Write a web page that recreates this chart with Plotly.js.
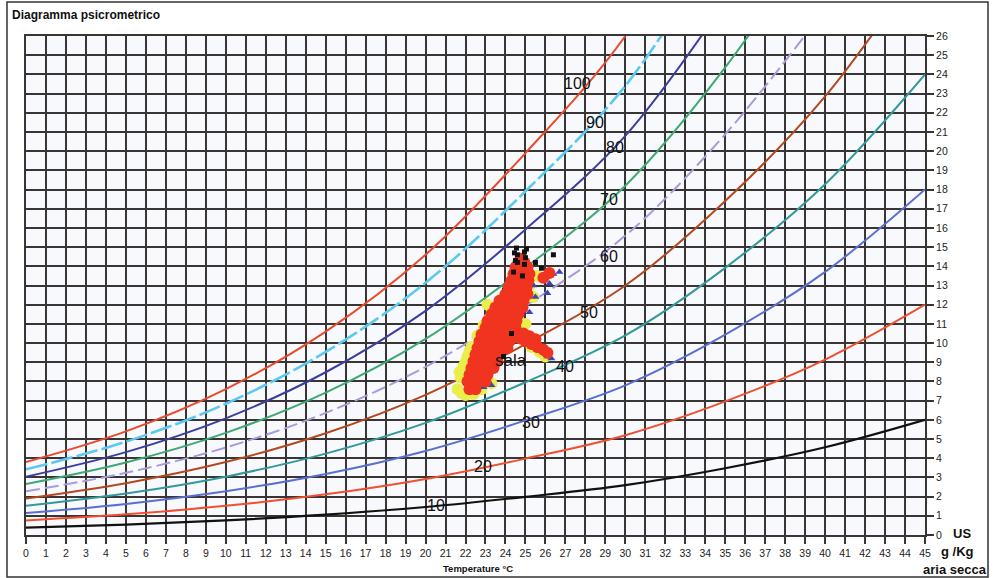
<!DOCTYPE html>
<html>
<head>
<meta charset="utf-8">
<script src="https://cdn.plot.ly/plotly-3.0.1.min.js"></script>
<style>html,body{margin:0;padding:0;background:#fff;}#chart{width:995px;height:578px;}</style>
</head>
<body>
<div id="chart"></div>
<script>
// Temperature grid for the relative-humidity curves (°C)
var temps = [0, 5, 10, 15, 20, 25, 30, 35, 40, 45];

// Mixing ratio (g/kg dry air)
var rh100 = [3.8, 5.4, 7.6, 10.6, 14.6, 19.9, 26.0, 34.8];
var rh90  = [3.42, 4.86, 6.84, 9.54, 13.14, 17.91, 23.4, 31.3];
var rh80  = [3.04, 4.32, 6.08, 8.48, 11.68, 15.92, 20.8, 27.8];
var rh70  = [2.66, 3.78, 5.32, 7.42, 10.22, 13.93, 18.2, 24.36, 32.0];
var rh60  = [2.28, 3.24, 4.56, 6.36, 8.76, 11.94, 15.6, 20.88, 27.4];
var rh50  = [1.9, 2.7, 3.8, 5.3, 7.3, 9.95, 13.0, 17.4, 22.85, 30.0];
var rh40  = [1.52, 2.16, 3.04, 4.24, 5.84, 7.96, 10.4, 13.92, 18.28, 24.0];
var rh30  = [1.14, 1.62, 2.28, 3.18, 4.38, 5.97, 7.8, 10.44, 13.71, 18.0];
var rh20  = [0.76, 1.08, 1.52, 2.12, 2.92, 3.98, 5.2, 6.96, 9.14, 12.0];
var rh10  = [0.38, 0.54, 0.76, 1.06, 1.46, 1.99, 2.6, 3.48, 4.57, 6.0];

// Curve labels
var rhLabels = ["100", "90", "80", "70", "60", "50", "40", "30", "20", "10"];
var rhLabelX = [27.6, 28.5, 29.5, 29.2, 29.2, 28.2, 27.0, 25.3, 22.9, 20.5];
var rhLabelY = [23.55, 21.5, 20.2, 17.5, 14.5, 11.6, 8.8, 5.85, 3.55, 1.55];

// Measured points ("sala")
var yellowT = [21.6, 21.75, 21.9, 22.1, 22.3, 22.6, 22.9, 23.2, 23.5, 23.8, 22.0, 22.4, 22.8, 21.8, 25.2, 25.6, 25.4, 25.3, 25.7, 26.0, 25.2, 25.0, 23.3, 23.1, 21.7, 22.0, 22.2];
var yellowW = [7.6, 8.2, 8.8, 9.3, 9.8, 10.4, 10.9, 11.3, 11.8, 12.3, 7.3, 7.35, 7.6, 7.4, 13.0, 13.5, 12.4, 9.8, 9.55, 9.3, 10.3, 11.0, 7.9, 12.0, 8.5, 9.0, 9.6];

var blueT = [26.4, 26.7, 26.2, 26.1, 25.5, 25.2, 26.1, 25.7, 22.7, 22.9, 25.4, 23.3, 24.8, 25.9, 22.4, 24.0, 26.3];
var blueW = [13.6, 13.7, 13.1, 12.6, 12.4, 11.6, 9.3, 9.6, 10.3, 7.7, 13.0, 7.8, 10.5, 13.5, 9.0, 12.7, 9.2];

// black points lying under the red cloud (edges)
var blackLowT = [24.0, 23.6, 23.1, 22.75, 22.4, 22.2, 23.9, 22.55, 23.35];
var blackLowW = [12.7, 11.7, 10.7, 10.0, 8.7, 8.0, 12.3, 9.4, 11.2];

var redT = [22.2, 22.5,
  22.1, 22.4, 22.7, 23.0,
  22.2, 22.5, 22.8, 23.1,
  22.3, 22.6, 22.9, 23.2, 23.4,
  22.4, 22.7, 23.0, 23.3, 23.6,
  22.5, 22.8, 23.1, 23.4, 23.7,
  22.6, 22.9, 23.2, 23.5, 23.8, 24.1,
  22.7, 23.0, 23.3, 23.6, 23.9, 24.2,
  22.8, 23.1, 23.4, 23.7, 24.0, 24.3, 24.5,
  23.0, 23.3, 23.6, 23.9, 24.2, 24.5,
  23.1, 23.4, 23.7, 24.0, 24.3, 24.55,
  23.3, 23.6, 23.9, 24.2, 24.5, 24.65,
  23.5, 23.8, 24.1, 24.4, 24.7, 24.85,
  23.7, 24.0, 24.3, 24.6, 24.9,
  24.0, 24.3, 24.6, 24.9, 25.1,
  24.15, 24.45, 24.75, 25.05,
  24.3, 24.6, 24.9, 25.15,
  24.4, 24.7, 25.0, 25.2,
  24.5, 24.8, 25.1,
  24.65, 24.95,
  24.75,
  24.7, 25.0, 25.3, 25.6, 25.9, 26.1,
  24.9, 25.2, 25.5,
  26.2, 25.9];
var redW = [7.6, 7.6,
  8.0, 8.0, 8.0, 8.0,
  8.35, 8.35, 8.35, 8.35,
  8.7, 8.7, 8.7, 8.7, 8.7,
  9.05, 9.05, 9.05, 9.05, 9.05,
  9.4, 9.4, 9.4, 9.4, 9.4,
  9.75, 9.75, 9.75, 9.75, 9.75, 9.75,
  10.1, 10.1, 10.1, 10.1, 10.1, 10.1,
  10.45, 10.45, 10.45, 10.45, 10.45, 10.45, 10.45,
  10.8, 10.8, 10.8, 10.8, 10.8, 10.8,
  11.15, 11.15, 11.15, 11.15, 11.15, 11.15,
  11.5, 11.5, 11.5, 11.5, 11.5, 11.5,
  11.85, 11.85, 11.85, 11.85, 11.85, 11.85,
  12.2, 12.2, 12.2, 12.2, 12.2,
  12.55, 12.55, 12.55, 12.55, 12.55,
  12.9, 12.9, 12.9, 12.9,
  13.25, 13.25, 13.25, 13.25,
  13.6, 13.6, 13.6, 13.6,
  13.95, 13.95, 13.95,
  14.2, 14.2,
  14.4,
  10.25, 10.1, 9.95, 9.8, 9.65, 9.5,
  10.5, 10.35, 10.2,
  13.65, 13.4];

// black points above the red cloud (top spikes and scattered)
var blackT = [24.55, 24.6, 24.5, 24.95, 25.0, 24.45, 25.05, 24.6, 24.95, 25.5, 26.4, 25.8, 23.9, 24.3, 24.4, 24.85];
var blackW = [14.95, 14.6, 14.3, 14.75, 14.45, 14.7, 14.9, 14.2, 14.1, 14.2, 14.6, 13.9, 9.3, 10.5, 13.7, 13.5];

var xTicks = [];
for (var i = 0; i <= 45; i++) xTicks.push(i);
var yTicks = [];
for (var j = 0; j <= 26; j++) yTicks.push(j);

function curve(vals, color, dash, width) {
  return {
    x: temps.slice(0, vals.length), y: vals, type: 'scatter', mode: 'lines',
    line: {color: color, width: width || 2, dash: dash || 'solid', shape: 'spline', smoothing: 1},
    hoverinfo: 'skip', showlegend: false
  };
}

var traces = [
  curve(rh10, '#111111', 'solid', 2.2),
  curve(rh20, '#f0502f', 'solid', 2),
  curve(rh30, '#5b6fd0', 'solid', 2),
  curve(rh40, '#33999a', 'solid', 2),
  curve(rh50, '#b4481f', 'solid', 2),
  curve(rh60, '#a99bdc', '14px,5px', 2),
  curve(rh70, '#3fa874', 'solid', 2),
  curve(rh80, '#3d3f9e', 'solid', 2),
  curve(rh90, '#5ec9f0', '22px,4px', 2.6),
  curve(rh100, '#ea4a2c', 'solid', 2),
  {x: yellowT, y: yellowW, type: 'scatter', mode: 'markers', marker: {color: '#eaee4a', size: 12, line: {width: 0}}, showlegend: false},
  {x: blueT, y: blueW, type: 'scatter', mode: 'markers', marker: {color: '#3b45b8', size: 7, symbol: 'triangle-up', line: {width: 0}}, showlegend: false},
  {x: blackLowT, y: blackLowW, type: 'scatter', mode: 'markers', marker: {color: '#111111', size: 7, symbol: 'square', line: {width: 0}}, showlegend: false},
  {x: redT, y: redW, type: 'scatter', mode: 'markers', marker: {color: '#f0341f', size: 12, line: {width: 0}}, showlegend: false},
  {x: blackT, y: blackW, type: 'scatter', mode: 'markers', marker: {color: '#111111', size: 5, symbol: 'square', line: {width: 0}}, showlegend: false}
];

var annotations = [];
for (var k = 0; k < rhLabels.length; k++) {
  annotations.push({x: rhLabelX[k], y: rhLabelY[k], xref: 'x', yref: 'y', text: rhLabels[k], showarrow: false,
    font: {family: 'Liberation Sans, Arial, sans-serif', size: 16, color: '#111'}});
}
annotations.push({x: 24.3, y: 9.1, xref: 'x', yref: 'y', text: 'sala', showarrow: false,
  font: {family: 'Liberation Sans, Arial, sans-serif', size: 17, color: '#111'}});
annotations.push({x: (10 - 26) / 899, y: (535 - 15) / 499, xref: 'paper', yref: 'paper', xanchor: 'left', yanchor: 'middle',
  text: 'Diagramma psicrometrico', showarrow: false,
  font: {family: 'Liberation Sans, Arial, sans-serif', size: 12, color: '#111', weight: 'bold'}});
annotations.push({x: (478 - 26) / 899, y: (535 - 568) / 499, xref: 'paper', yref: 'paper', xanchor: 'center', yanchor: 'middle',
  text: 'Temperature °C', showarrow: false,
  font: {family: 'Liberation Sans, Arial, sans-serif', size: 9.5, color: '#111', weight: 'bold'}});
annotations.push({x: (962 - 26) / 899, y: (535 - 533) / 499, xref: 'paper', yref: 'paper', xanchor: 'center', yanchor: 'middle',
  text: 'US', showarrow: false,
  font: {family: 'Liberation Sans, Arial, sans-serif', size: 13, color: '#111', weight: 'bold'}});
annotations.push({x: (957 - 26) / 899, y: (535 - 551) / 499, xref: 'paper', yref: 'paper', xanchor: 'center', yanchor: 'middle',
  text: 'g /Kg', showarrow: false,
  font: {family: 'Liberation Sans, Arial, sans-serif', size: 13, color: '#111', weight: 'bold'}});
annotations.push({x: (955 - 26) / 899, y: (535 - 569) / 499, xref: 'paper', yref: 'paper', xanchor: 'center', yanchor: 'middle',
  text: 'aria secca', showarrow: false,
  font: {family: 'Liberation Sans, Arial, sans-serif', size: 13, color: '#111', weight: 'bold'}});

var layout = {
  width: 995, height: 578,
  margin: {l: 26, r: 70, t: 36, b: 43, pad: 0},
  paper_bgcolor: '#ffffff',
  plot_bgcolor: '#f7f9fd',
  showlegend: false,
  font: {family: 'Liberation Sans, Arial, sans-serif', color: '#222'},
  xaxis: {
    range: [0, 45], tickvals: xTicks, ticktext: xTicks.map(String),
    showgrid: true, gridcolor: '#3a3535', gridwidth: 2,
    zeroline: false, showline: true, linecolor: '#3a3535', linewidth: 2, mirror: true,
    ticks: 'outside', ticklen: 7, tickwidth: 2, tickcolor: '#3a3535',
    tickfont: {size: 10.5, color: '#222'}, fixedrange: true
  },
  yaxis: {
    side: 'right', range: [0, 26], tickvals: yTicks, ticktext: yTicks.map(String),
    showgrid: true, gridcolor: '#3a3535', gridwidth: 2,
    zeroline: false, showline: true, linecolor: '#3a3535', linewidth: 2, mirror: true,
    ticks: 'outside', ticklen: 7, tickwidth: 2, tickcolor: '#3a3535',
    tickfont: {size: 10.5, color: '#222'}, fixedrange: true
  },
  shapes: [{
    type: 'rect', xref: 'paper', yref: 'paper',
    x0: (7 - 26) / 899, x1: (988 - 26) / 899,
    y0: (535 - 577) / 499, y1: (535 - 2) / 499,
    line: {color: '#333', width: 1.5}, fillcolor: 'rgba(0,0,0,0)', layer: 'below'
  }],
  annotations: annotations
};

Plotly.newPlot('chart', traces, layout, {displayModeBar: false, staticPlot: true});
</script>
</body>
</html>
